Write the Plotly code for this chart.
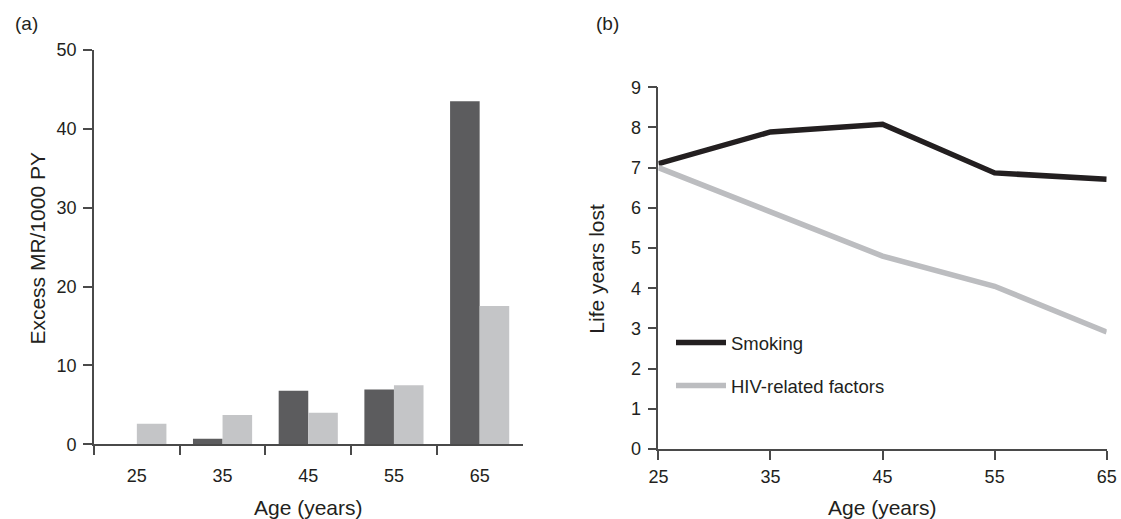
import plotly.graph_objects as go

# ---- data ----
age_groups = ["25", "35", "45", "55", "65"]
excess_smoking = [0.0, 0.7, 6.8, 6.95, 43.5]
excess_hiv = [2.6, 3.7, 4.0, 7.5, 17.55]

ages = [25, 35, 45, 55, 65]
lyl_smoking = [7.1, 7.89, 8.08, 6.87, 6.71]
lyl_hiv = [7.0, 5.9, 4.8, 4.05, 2.91]

W, H = 1121, 519
INK = "#231f20"
AX = "#4a4a4a"
FONT = "Liberation Sans, Arial, Helvetica, sans-serif"

fig = go.Figure()

fig.add_trace(go.Bar(x=age_groups, y=excess_smoking, marker=dict(color="#5c5c5e", line=dict(width=0)),
                     xaxis="x", yaxis="y", showlegend=False, name="Smoking"))
fig.add_trace(go.Bar(x=age_groups, y=excess_hiv, marker=dict(color="#c4c5c7", line=dict(width=0)),
                     xaxis="x", yaxis="y", showlegend=False, name="HIV-related factors"))

fig.add_trace(go.Scatter(x=ages, y=lyl_smoking, mode="lines", name="Smoking",
                         line=dict(color=INK, width=5.5), xaxis="x2", yaxis="y2",
                         legendgroup="a"))
fig.add_trace(go.Scatter(x=ages, y=lyl_hiv, mode="lines", name="HIV-related factors",
                         line=dict(color="#bcbdc0", width=5.5), xaxis="x2", yaxis="y2",
                         legendgroup="b"))

axis_common = dict(showgrid=False, zeroline=False, showline=True, linecolor=AX, linewidth=1.6,
                   ticks="outside", ticklen=9, tickwidth=1.6, tickcolor=AX, automargin=False,
                   tickfont=dict(size=18, color=INK, family=FONT))

fig.update_layout(
    width=W, height=H, autosize=False,
    margin=dict(l=0, r=0, t=0, b=0, autoexpand=False),
    paper_bgcolor="white", plot_bgcolor="white",
    font=dict(family=FONT, color=INK, size=18),
    barmode="group", bargap=0.31, bargroupgap=0,
    xaxis=dict(domain=[94 / W, 522.5 / W], anchor="y", type="category", range=[-0.5, 4.5],
               tickson="boundaries", ticklabelstandoff=14, **axis_common),
    yaxis=dict(domain=[1 - 444.3 / H, 1 - 50 / H], anchor="x", range=[0, 50],
               tickvals=[0, 10, 20, 30, 40, 50], ticklabelstandoff=3, **axis_common),
    xaxis2=dict(domain=[658.4 / W, 1106.7 / W], anchor="y2", range=[25, 65], tickvals=ages,
                ticklabelstandoff=2, **axis_common),
    yaxis2=dict(domain=[1 - 449 / H, 1 - 87.3 / H], anchor="x2", range=[0, 9],
                tickvals=list(range(10)), ticklabelstandoff=3, **axis_common),
    legend=dict(x=671 / W, y=1 - 324 / H, xanchor="left", yanchor="top",
                bgcolor="rgba(0,0,0,0)", font=dict(size=18.5, color=INK, family=FONT),
                traceorder="grouped", tracegroupgap=16, itemwidth=50),
    showlegend=True,
    annotations=[
        dict(text="(a)", x=12.5 / W, y=1 - 24 / H, xref="paper", yref="paper", xanchor="left", yanchor="middle",
             showarrow=False, font=dict(size=19, color=INK)),
        dict(text="(b)", x=594 / W, y=1 - 24 / H, xref="paper", yref="paper", xanchor="left", yanchor="middle",
             showarrow=False, font=dict(size=19, color=INK)),
        dict(text="Excess MR/1000 PY", x=36.6 / W, y=1 - 248 / H, xref="paper", yref="paper",
             xanchor="center", yanchor="middle", textangle=-90, showarrow=False, font=dict(size=21, color=INK)),
        dict(text="Life years lost", x=596.7 / W, y=1 - 269 / H, xref="paper", yref="paper",
             xanchor="center", yanchor="middle", textangle=-90, showarrow=False, font=dict(size=21, color=INK)),
        dict(text="Age (years)", x=308 / W, y=1 - 507 / H, xref="paper", yref="paper",
             xanchor="center", yanchor="middle", showarrow=False, font=dict(size=21, color=INK)),
        dict(text="Age (years)", x=882.5 / W, y=1 - 507 / H, xref="paper", yref="paper",
             xanchor="center", yanchor="middle", showarrow=False, font=dict(size=21, color=INK)),
    ],
)

fig.write_html("out.html", config={"displayModeBar": False},
               post_script="document.body.style.margin='0';document.body.style.padding='0';"
                           "document.body.style.overflow='hidden';")
